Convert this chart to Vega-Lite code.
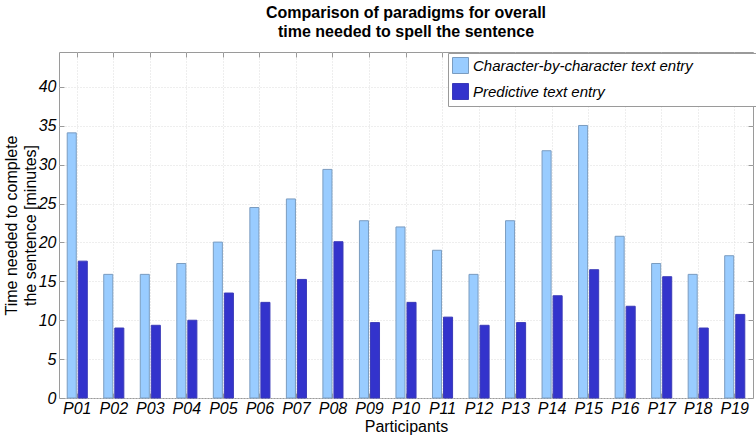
{
  "$schema": "https://vega.github.io/schema/vega-lite/v6.json",
  "autosize": {"type": "none"},
  "padding": {"left": 59, "top": 52, "right": 3, "bottom": 42},
  "width": 694,
  "height": 346,
  "background": "white",
  "config": {
    "font": "Liberation Sans",
    "view": {"stroke": "#9a9a9a", "strokeWidth": 1},
    "axis": {
      "domain": false,
      "tickColor": "#9a9a9a",
      "gridColor": "#dcdcdc",
      "gridDash": [1, 2],
      "labelColor": "black",
      "titleColor": "black",
      "labelFontSize": 16,
      "titleFontSize": 16,
      "titleFontWeight": "normal",
      "minExtent": 0
    }
  },
  "title": {
    "text": ["Comparison of paradigms for overall", "time needed to spell the sentence"],
    "fontSize": 16,
    "fontWeight": "bold",
    "color": "black",
    "lineHeight": 19,
    "offset": 12,
    "dy": 56
  },
  "data": {
    "values": [
      {"Participant": "P01", "Paradigm": "Character-by-character text entry", "Time": 34.1},
      {"Participant": "P01", "Paradigm": "Predictive text entry", "Time": 17.6},
      {"Participant": "P02", "Paradigm": "Character-by-character text entry", "Time": 15.9},
      {"Participant": "P02", "Paradigm": "Predictive text entry", "Time": 9.0},
      {"Participant": "P03", "Paradigm": "Character-by-character text entry", "Time": 15.9},
      {"Participant": "P03", "Paradigm": "Predictive text entry", "Time": 9.35},
      {"Participant": "P04", "Paradigm": "Character-by-character text entry", "Time": 17.3},
      {"Participant": "P04", "Paradigm": "Predictive text entry", "Time": 10.0},
      {"Participant": "P05", "Paradigm": "Character-by-character text entry", "Time": 20.05},
      {"Participant": "P05", "Paradigm": "Predictive text entry", "Time": 13.5},
      {"Participant": "P06", "Paradigm": "Character-by-character text entry", "Time": 24.5},
      {"Participant": "P06", "Paradigm": "Predictive text entry", "Time": 12.3},
      {"Participant": "P07", "Paradigm": "Character-by-character text entry", "Time": 25.6},
      {"Participant": "P07", "Paradigm": "Predictive text entry", "Time": 15.25},
      {"Participant": "P08", "Paradigm": "Character-by-character text entry", "Time": 29.4},
      {"Participant": "P08", "Paradigm": "Predictive text entry", "Time": 20.1},
      {"Participant": "P09", "Paradigm": "Character-by-character text entry", "Time": 22.8},
      {"Participant": "P09", "Paradigm": "Predictive text entry", "Time": 9.7},
      {"Participant": "P10", "Paradigm": "Character-by-character text entry", "Time": 22.0},
      {"Participant": "P10", "Paradigm": "Predictive text entry", "Time": 12.3},
      {"Participant": "P11", "Paradigm": "Character-by-character text entry", "Time": 19.0},
      {"Participant": "P11", "Paradigm": "Predictive text entry", "Time": 10.4},
      {"Participant": "P12", "Paradigm": "Character-by-character text entry", "Time": 15.9},
      {"Participant": "P12", "Paradigm": "Predictive text entry", "Time": 9.35},
      {"Participant": "P13", "Paradigm": "Character-by-character text entry", "Time": 22.8},
      {"Participant": "P13", "Paradigm": "Predictive text entry", "Time": 9.7},
      {"Participant": "P14", "Paradigm": "Character-by-character text entry", "Time": 31.8},
      {"Participant": "P14", "Paradigm": "Predictive text entry", "Time": 13.15},
      {"Participant": "P15", "Paradigm": "Character-by-character text entry", "Time": 35.05},
      {"Participant": "P15", "Paradigm": "Predictive text entry", "Time": 16.5},
      {"Participant": "P16", "Paradigm": "Character-by-character text entry", "Time": 20.8},
      {"Participant": "P16", "Paradigm": "Predictive text entry", "Time": 11.8},
      {"Participant": "P17", "Paradigm": "Character-by-character text entry", "Time": 17.3},
      {"Participant": "P17", "Paradigm": "Predictive text entry", "Time": 15.6},
      {"Participant": "P18", "Paradigm": "Character-by-character text entry", "Time": 15.9},
      {"Participant": "P18", "Paradigm": "Predictive text entry", "Time": 9.0},
      {"Participant": "P19", "Paradigm": "Character-by-character text entry", "Time": 18.3},
      {"Participant": "P19", "Paradigm": "Predictive text entry", "Time": 10.75}
    ]
  },
  "layer": [
    {
      "mark": {"type": "bar", "strokeWidth": 1},
      "encoding": {
        "x": {
          "field": "Participant",
          "type": "nominal",
          "sort": null,
          "scale": {"paddingInner": 0.45, "paddingOuter": 0.225},
          "axis": {
            "orient": "bottom",
            "title": "Participants",
            "labelAngle": 0,
            "labelFontStyle": "italic",
            "bandPosition": 0.5,
            "grid": true,
            "tickSize": -5,
            "labelPadding": 7,
            "titlePadding": 2
          }
        },
        "y": {
          "field": "Time",
          "type": "quantitative",
          "scale": {"domain": [0, 44.5], "nice": false, "zero": true},
          "axis": {
            "orient": "left",
            "values": [0, 5, 10, 15, 20, 25, 30, 35, 40],
            "title": ["Time needed to complete", "the sentence [minutes]"],
            "labelFontStyle": "italic",
            "grid": true,
            "tickSize": -5,
            "labelPadding": 8,
            "titlePadding": 0,
            "titleLineHeight": 19
          }
        },
        "xOffset": {
          "field": "Paradigm",
          "type": "nominal",
          "scale": {"paddingInner": 0.18}
        },
        "color": {
          "field": "Paradigm",
          "type": "nominal",
          "scale": {
            "domain": ["Character-by-character text entry", "Predictive text entry"],
            "range": ["#99ccff", "#3333cc"]
          },
          "legend": {
            "title": null,
            "orient": "none",
            "legendX": 389,
            "legendY": 1,
            "symbolType": "square",
            "symbolSize": 256,
            "symbolStrokeWidth": 1,
            "labelFontSize": 15,
            "labelFontStyle": "italic",
            "labelColor": "black",
            "labelOffset": 4,
            "labelExpr": "datum.label + '\u2800\u2800\u2800\u2800\u2800\u2800'",
            "rowPadding": 5,
            "padding": 4,
            "strokeColor": "#9a9a9a",
            "fillColor": "white",
            "labelLimit": 400,
            "symbolOpacity": 1
          }
        },
        "stroke": {
          "field": "Paradigm",
          "type": "nominal",
          "scale": {
            "domain": ["Character-by-character text entry", "Predictive text entry"],
            "range": ["#7a9cc0", "#3a3ab8"]
          },
          "legend": null
        }
      }
    },
    {
      "mark": {"type": "bar", "opacity": 0},
      "encoding": {
        "x": {
          "field": "Participant",
          "type": "nominal",
          "sort": null,
          "axis": {
            "orient": "top",
            "labels": false,
            "title": null,
            "bandPosition": 0.5,
            "grid": false,
            "tickSize": -5
          }
        },
        "y": {
          "field": "Time",
          "type": "quantitative",
          "axis": {
            "orient": "right",
            "values": [0, 5, 10, 15, 20, 25, 30, 35, 40],
            "labels": false,
            "title": null,
            "grid": false,
            "tickSize": -5
          }
        }
      }
    }
  ],
  "resolve": {"axis": {"x": "independent", "y": "independent"}}
}
